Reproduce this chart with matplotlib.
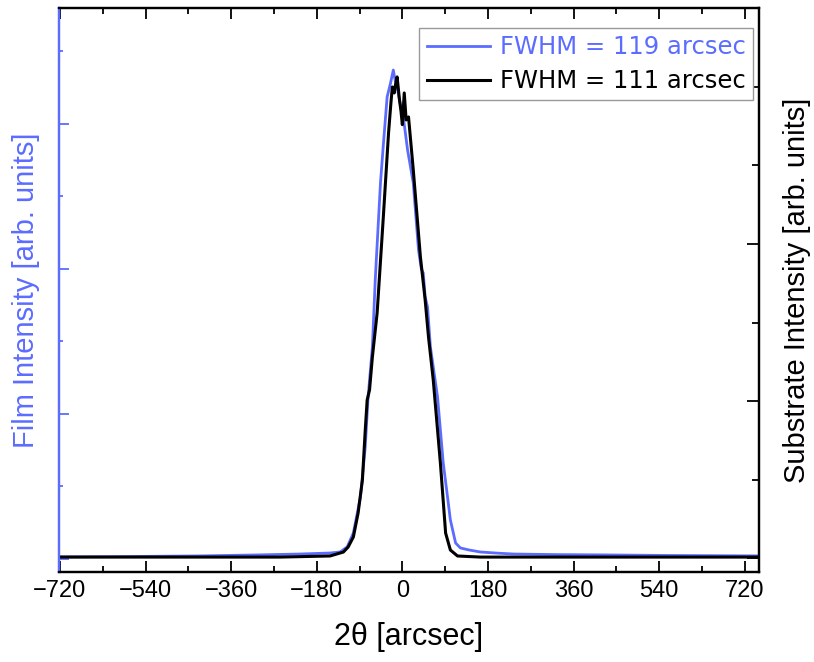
import matplotlib

matplotlib.use("Agg")
import matplotlib.pyplot as plt
from matplotlib.ticker import MultipleLocator, NullFormatter

plt.rcParams["font.family"] = ["Liberation Sans", "DejaVu Sans"]

FILM_COLOR = "#5b6cff"

# film (blue) rocking curve: 2theta [arcsec] vs intensity [arb.]
film_x = [-720, -600, -425, -300, -215, -152, -131, -116, -103, -88, -78, -72, -63,
          -57, -46, -40, -32, -25, -19, -15, -11, -5, 2, 11, 23, 34, 40, 44, 48,
          53, 59, 74, 86, 95, 101, 112, 122, 140, 164, 200, 234, 320, 417, 560, 750]
film_y = [14, 16, 21, 28, 34, 41, 48, 83, 179, 428, 773, 1117, 1462,
          1924, 2593, 2855, 3186, 3280, 3372, 3300, 3255, 3150, 3048, 2821, 2593, 2131, 2000, 1972, 1806,
          1738, 1462, 1117, 662, 428, 269, 110, 76, 62, 48, 40, 34, 30, 28, 24, 21]

# substrate (black) rocking curve
sub_x = [-720, -500, -257, -152, -124, -114, -103, -93, -84, -78, -74, -69, -63,
         -53, -40, -29, -24, -21, -17, -14, -11, -6, -3, 0, 4, 8, 13, 23, 38, 48,
         55, 65, 80, 91, 101, 116, 164, 400, 750]
sub_y = [6, 6, 6, 13, 38, 70, 134, 287, 497, 815, 1006, 1070, 1280,
         1561, 2172, 2707, 2900, 3000, 2962, 3020, 3064, 2917, 2850, 2760, 2962, 2790, 2809, 2472, 1917, 1643,
         1408, 1134, 605, 159, 51, 13, 6, 6, 6]

x_ticks = [-720, -540, -360, -180, 0, 180, 360, 540, 720]
legend_labels = ["FWHM = 119 arcsec", "FWHM = 111 arcsec"]

fig = plt.figure(figsize=(8.14, 6.62), dpi=100)
ax = fig.add_axes([59 / 814, 90 / 662, 700 / 814, 564 / 662])
ax2 = ax.twinx()

l1, = ax.plot(film_x, film_y, color=FILM_COLOR, lw=2.0)
l2, = ax2.plot(sub_x, sub_y, color="black", lw=2.2)

ax.set_xlim(-722, 750)
ax.set_ylim(-90, 3800)
ax2.set_ylim(-89, 3503)

ax.set_xticks(x_ticks)
ax.set_xticklabels([f"{t:d}".replace("-", "\u2212") for t in x_ticks])
ax.xaxis.set_minor_locator(MultipleLocator(90))
for a in (ax, ax2):
    a.yaxis.set_major_locator(MultipleLocator(1000))
    a.yaxis.set_minor_locator(MultipleLocator(500))
    a.yaxis.set_major_formatter(NullFormatter())

ax.tick_params(axis="x", which="both", direction="in", top=True, labelsize=17,
               pad=6, width=1.3)
ax.tick_params(axis="x", which="major", length=8)
ax.tick_params(axis="x", which="minor", length=4.5)
ax.tick_params(axis="y", which="both", direction="in", colors=FILM_COLOR, width=1.3)
ax.tick_params(axis="y", which="major", length=7)
ax.tick_params(axis="y", which="minor", length=3)
ax2.tick_params(axis="y", which="both", direction="in", width=1.3)
ax2.tick_params(axis="y", which="major", length=9)
ax2.tick_params(axis="y", which="minor", length=5)

for a in (ax, ax2):
    for s in a.spines.values():
        s.set_linewidth(1.6)
ax2.spines["left"].set_color(FILM_COLOR)
ax.spines["left"].set_color(FILM_COLOR)

ax.set_xlabel("2\u03b8 [arcsec]", fontsize=22, labelpad=14)
ax.set_ylabel("Film Intensity [arb. units]", fontsize=21, color=FILM_COLOR, labelpad=10)
ax2.set_ylabel("Substrate Intensity [arb. units]", fontsize=21, labelpad=14)

leg = ax2.legend([l1, l2], legend_labels, loc="upper right",
                 bbox_to_anchor=(0.991, 0.9645), borderaxespad=0, fancybox=False,
                 edgecolor="#999999", framealpha=1, handlelength=2.6, handletextpad=0.4,
                 labelspacing=0.4, borderpad=0.3, prop={"family": "DejaVu Sans", "size": 17.5})
leg.get_frame().set_linewidth(1.0)
leg.get_texts()[0].set_color(FILM_COLOR)

fig.savefig("out.png", dpi=100)
